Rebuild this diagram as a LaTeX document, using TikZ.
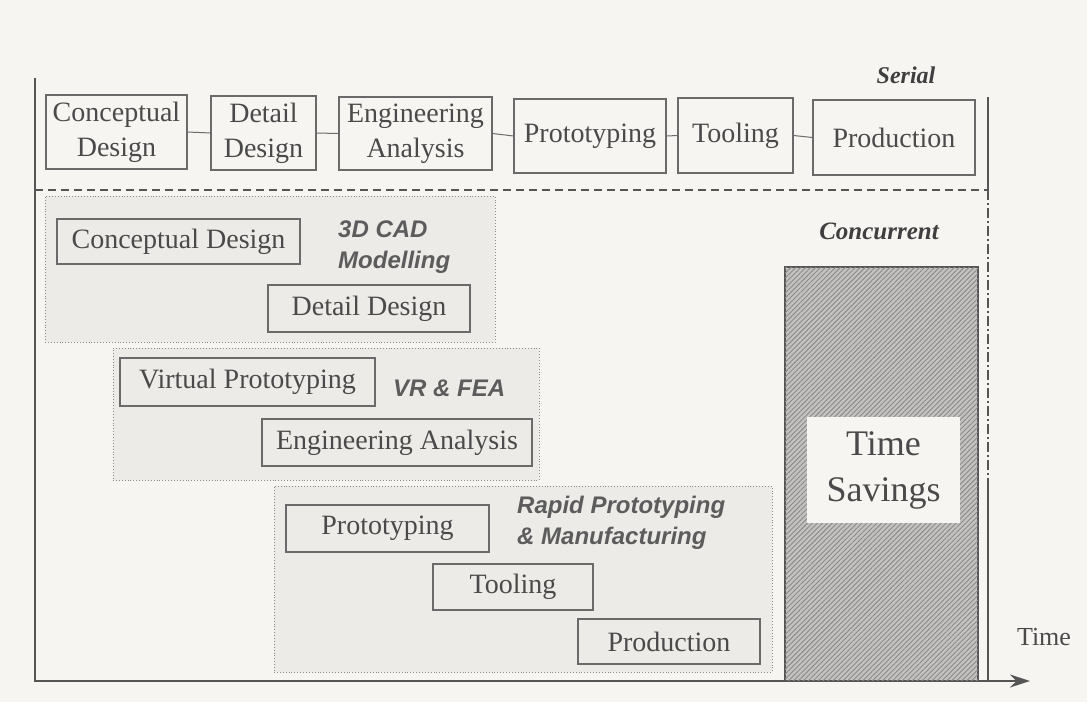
\documentclass[tikz,border=0pt]{standalone}
\usepackage{fontspec}
\setmainfont{Liberation Serif}
\newfontfamily\arialf{Liberation Sans}
\usetikzlibrary{patterns.meta,arrows.meta}
\definecolor{txt}{HTML}{4A4A4A}
\definecolor{ln}{HTML}{6A6A6A}
\definecolor{paper}{HTML}{F7F5F2}
\definecolor{grpfill}{HTML}{EDEBE8}
\definecolor{hatchbg}{HTML}{C4C2C0}
\definecolor{hatchln}{HTML}{8C8A88}
\tikzset{
  box/.style={draw=ln, line width=1.2pt, text=txt, inner sep=0pt, align=center,
    font=\fontsize{28}{35}\selectfont},
  grpbox/.style={draw=ln!80, line width=0.9pt, dotted, fill=grpfill, inner sep=0pt},
  link/.style={draw=ln, line width=1pt},
  tech/.style={text=txt!90, font=\arialf\bfseries\itshape\fontsize{24}{31}\selectfont, align=left, inner sep=0pt},
  title/.style={text=txt!85!black, font=\bfseries\itshape, inner sep=0pt},
  axisline/.style={draw=ln!80!black, line width=1.8pt}
}
\begin{document}
\begin{tikzpicture}[x=1pt,y=-1pt]
\path[fill=paper,use as bounding box] (0,0) rectangle (1087,702);

% axes
\coordinate (ytop) at (35,78);
\coordinate (orig) at (35,681);
\coordinate (xend) at (1030,681);
\draw[axisline, -{Stealth[length=20pt,width=13pt]}] (ytop) -- (orig) -- (xend);

% right boundary line
\coordinate (r1) at (988,97);
\coordinate (r2) at (988,190);
\coordinate (r3) at (988,480);
\coordinate (r4) at (988,681);
\draw[axisline, line width=1.5pt] (r1) -- (r2);
\draw[axisline, line width=1.5pt, dash pattern=on 10pt off 3pt on 2pt off 3pt] (r2) -- (r3);
\draw[axisline, line width=1.5pt] (r3) -- (r4);

% dashed separator
\coordinate (d1) at (35,190);
\draw[draw=ln!80!black, line width=1.5pt, dash pattern=on 8pt off 5pt] (d1) -- (r2);

% Serial row
\node[title, font=\bfseries\itshape\fontsize{24}{28}\selectfont] (serial) at (906,75) {Serial};
\node[box, minimum width=141, minimum height=74] (cd1) at (116.5,132) {Conceptual\\Design};
\node[box, minimum width=105, minimum height=74] (dd1) at (263.5,133) {Detail\\Design};
\node[box, minimum width=153, minimum height=73] (ea1) at (415.5,133.5) {Engineering\\Analysis};
\node[box, minimum width=152, minimum height=74] (pr1) at (590,136) {Prototyping};
\node[box, minimum width=115, minimum height=75] (to1) at (735.5,135.5) {Tooling};
\node[box, minimum width=162, minimum height=75] (pd1) at (894,137.5) {Production};
\draw[link] (cd1.east) -- (dd1.west);
\draw[link] (dd1.east) -- (ea1.west);
\draw[link] (ea1.east) -- (pr1.west);
\draw[link] (pr1.east) -- (to1.west);
\draw[link] (to1.east) -- (pd1.west);

% Concurrent
\node[title, font=\bfseries\itshape\fontsize{25}{30}\selectfont] (conc) at (879,231) {Concurrent};

% groups
\node[grpbox, minimum width=450, minimum height=146] (g1) at (270,269) {};
\node[grpbox, minimum width=426, minimum height=132] (g2) at (326,414) {};
\node[grpbox, minimum width=498, minimum height=186] (g3) at (523,579) {};

\node[box, fill=grpfill, minimum width=243, minimum height=45] (cd2) at (178.5,241.5) {Conceptual Design};
\node[box, fill=grpfill, minimum width=202, minimum height=47] (dd2) at (369,308.5) {Detail Design};
\node[tech, anchor=west] (t1) at (338,247) {3D CAD\\Modelling};

\node[box, fill=grpfill, minimum width=255, minimum height=48] (vp) at (247.5,382) {Virtual Prototyping};
\node[box, fill=grpfill, minimum width=270, minimum height=47] (ea2) at (397,442.5) {Engineering Analysis};
\node[tech, anchor=west] (t2) at (393,388) {VR \& FEA};

\node[box, fill=grpfill, minimum width=203, minimum height=47] (pr2) at (387.5,528.5) {Prototyping};
\node[box, fill=grpfill, minimum width=160, minimum height=46] (to2) at (513,587) {Tooling};
\node[box, fill=grpfill, minimum width=182, minimum height=45] (pd2) at (669,641.5) {Production};
\node[tech, anchor=west] (t3) at (517,523) {Rapid Prototyping\\\& Manufacturing};

% time savings
\node[draw=ln!80!black, line width=1.2pt, fill=hatchbg, inner sep=0pt,
      minimum width=193, minimum height=414] (ts) at (881.5,474) {};
\fill[pattern={Lines[angle=45,distance=3.5pt,line width=0.9pt]}, pattern color=hatchln]
  (ts.south west) rectangle (ts.north east);
\draw[draw=ln!80!black, line width=1.2pt] (ts.south west) rectangle (ts.north east);
\node[fill=paper, text=txt, inner sep=0pt, minimum width=153, minimum height=106,
      align=center, font=\fontsize{36}{46}\selectfont] (tsl) at (883.5,470) {Time\\Savings};

\node[text=txt, inner sep=0pt, font=\fontsize{26}{30}\selectfont] (timel) at (1044,637) {Time};
\end{tikzpicture}
\end{document}
